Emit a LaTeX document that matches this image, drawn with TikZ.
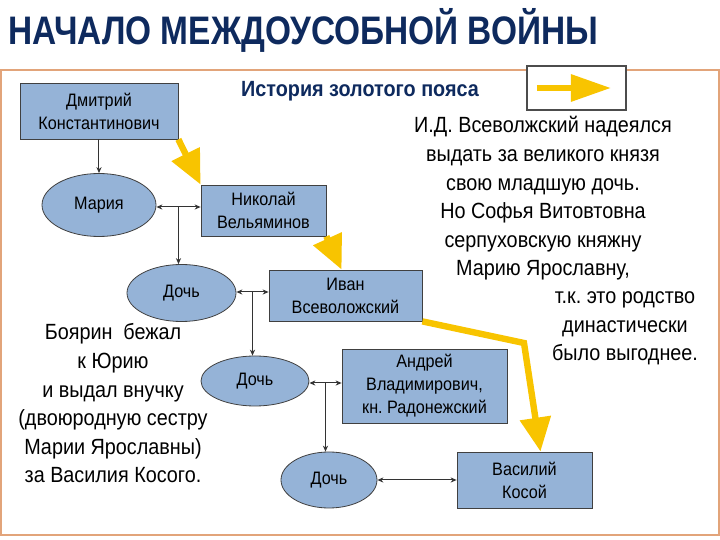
\documentclass[tikz,border=0pt]{standalone}
\usepackage{fontspec}
\setmainfont{Liberation Sans}[FakeStretch=0.9]
\newfontfamily\titlefont{Liberation Sans}[FakeStretch=0.84]
\usetikzlibrary{arrows.meta, shapes.geometric, calc}
\definecolor{titleblue}{HTML}{0E2A5E}
\definecolor{boxblue}{HTML}{95B3D7}
\definecolor{framecol}{HTML}{E2A47A}
\definecolor{beltcol}{HTML}{F8C400}
\frenchspacing

\begin{document}
\begin{tikzpicture}[x=0.5pt, y=-0.5pt, >={Stealth[length=3pt,width=2.6pt]},
    person/.style={draw=black!75, fill=boxblue, inner sep=0pt, align=center,
      font=\fontsize{9}{11.5}\selectfont},
    daughter/.style={ellipse, draw=black!75, fill=boxblue, inner sep=0pt,
      font=\fontsize{9}{11.5}\selectfont},
    link/.style={draw=black!80, line width=0.5pt},
    belt/.style={draw=beltcol, line width=3.2pt,
      -{Triangle[length=17pt,width=15pt,fill=beltcol]}},
    note/.style={align=center, inner sep=0pt, font=\fontsize{11}{14.3}\selectfont}]
  \useasboundingbox (0,0) rectangle (720,540);
  \draw[framecol, line width=0.8pt] (1,70) rectangle (719,535);
  \node[anchor=base west, inner sep=0pt, text=titleblue, font=\titlefont\bfseries\fontsize{19.9}{20}\selectfont] (title) at (8,45) {НАЧАЛО МЕЖДОУСОБНОЙ ВОЙНЫ};
  \node[anchor=base, inner sep=0pt, text=titleblue, font=\bfseries\fontsize{11}{12}\selectfont] (belttitle) at (360,97) {История золотого пояса};
  % legend
  \draw[black!70, fill=white, line width=0.6pt] (527,66) rectangle (626,110);
  \coordinate (legfrom) at (537,88);
  \coordinate (legto) at (611,88);
  \draw[draw=beltcol, line width=3pt, -{Triangle[length=20pt,width=13pt,fill=beltcol]}] (legfrom) -- (legto);

  % family tree
  \node[person, minimum width=79pt, minimum height=28pt] (dmitriy) at (99,111) {Дмитрий\\Константинович};
  \node[daughter, minimum width=57pt, minimum height=31.5pt] (maria) at (99,205) {Мария};
  \node[person, minimum width=62.5pt, minimum height=25.5pt] (nikolai) at (263.5,210.5) {Николай\\Вельяминов};
  \node[daughter, minimum width=54.5pt, minimum height=28.5pt] (doch1) at (181.5,293) {Дочь};
  \node[person, minimum width=76.5pt, minimum height=25.5pt] (ivan) at (345.5,295.5) {Иван\\Всеволожский};
  \node[daughter, minimum width=54pt, minimum height=25pt] (doch2) at (255,381) {Дочь};
  \node[person, minimum width=82.5pt, minimum height=37pt] (andrey) at (424.5,386) {Андрей\\Владимирович,\\кн. Радонежский};
  \node[daughter, minimum width=48pt, minimum height=28pt] (doch3) at (329,480) {Дочь};
  \node[person, minimum width=67.5pt, minimum height=28pt] (vasiliy) at (524.5,480) {Василий\\Косой};

  \draw[link, ->] (dmitriy.south -| maria.north) -- (maria.north);
  \draw[link, <->] (maria.east |- 0,207) -- (nikolai.west |- 0,207);
  \coordinate (j1) at (178.5,207);
  \draw[link, ->] (j1) -- (j1 |- doch1.north);
  \draw[link, <->] (doch1.east |- 0,292) -- (ivan.west |- 0,292);
  \coordinate (j2) at (252.5,292);
  \draw[link, ->] (j2) -- (j2 |- doch2.north);
  \draw[link, <->] (doch2.east |- 0,383) -- (andrey.west |- 0,383);
  \coordinate (j3) at (325.5,383);
  \draw[link, ->] (j3) -- (j3 |- doch3.north);
  \draw[link, <->] (doch3.east) -- (vasiliy.west);

  % golden belt
  \draw[belt] (dmitriy.south east) -- (nikolai.north west);
  \draw[belt] (nikolai.south east) -- ($(ivan.north west)+(73,0)$);
  \coordinate (bend) at (524,343);
  \draw[belt, line join=miter] (ivan.south east) -- (bend) -- ($(vasiliy.north)+(16,0)$);

  % notes
  \node[note] (hope) at (543,198.5) {И.Д. Всеволжский надеялся\\выдать за великого князя\\свою младшую дочь.\\Но Софья Витовтовна\\серпуховскую княжну\\Марию Ярославну,};
  \node[note] (reason) at (625,328.5) {т.к. это родство\\династически\\было выгоднее.};
  \node[note] (boyar) at (113,403.5) {Боярин\ \ бежал\\к Юрию\\и выдал внучку\\(двоюродную сестру\\Марии Ярославны)\\за Василия Косого.};
\end{tikzpicture}
\end{document}
